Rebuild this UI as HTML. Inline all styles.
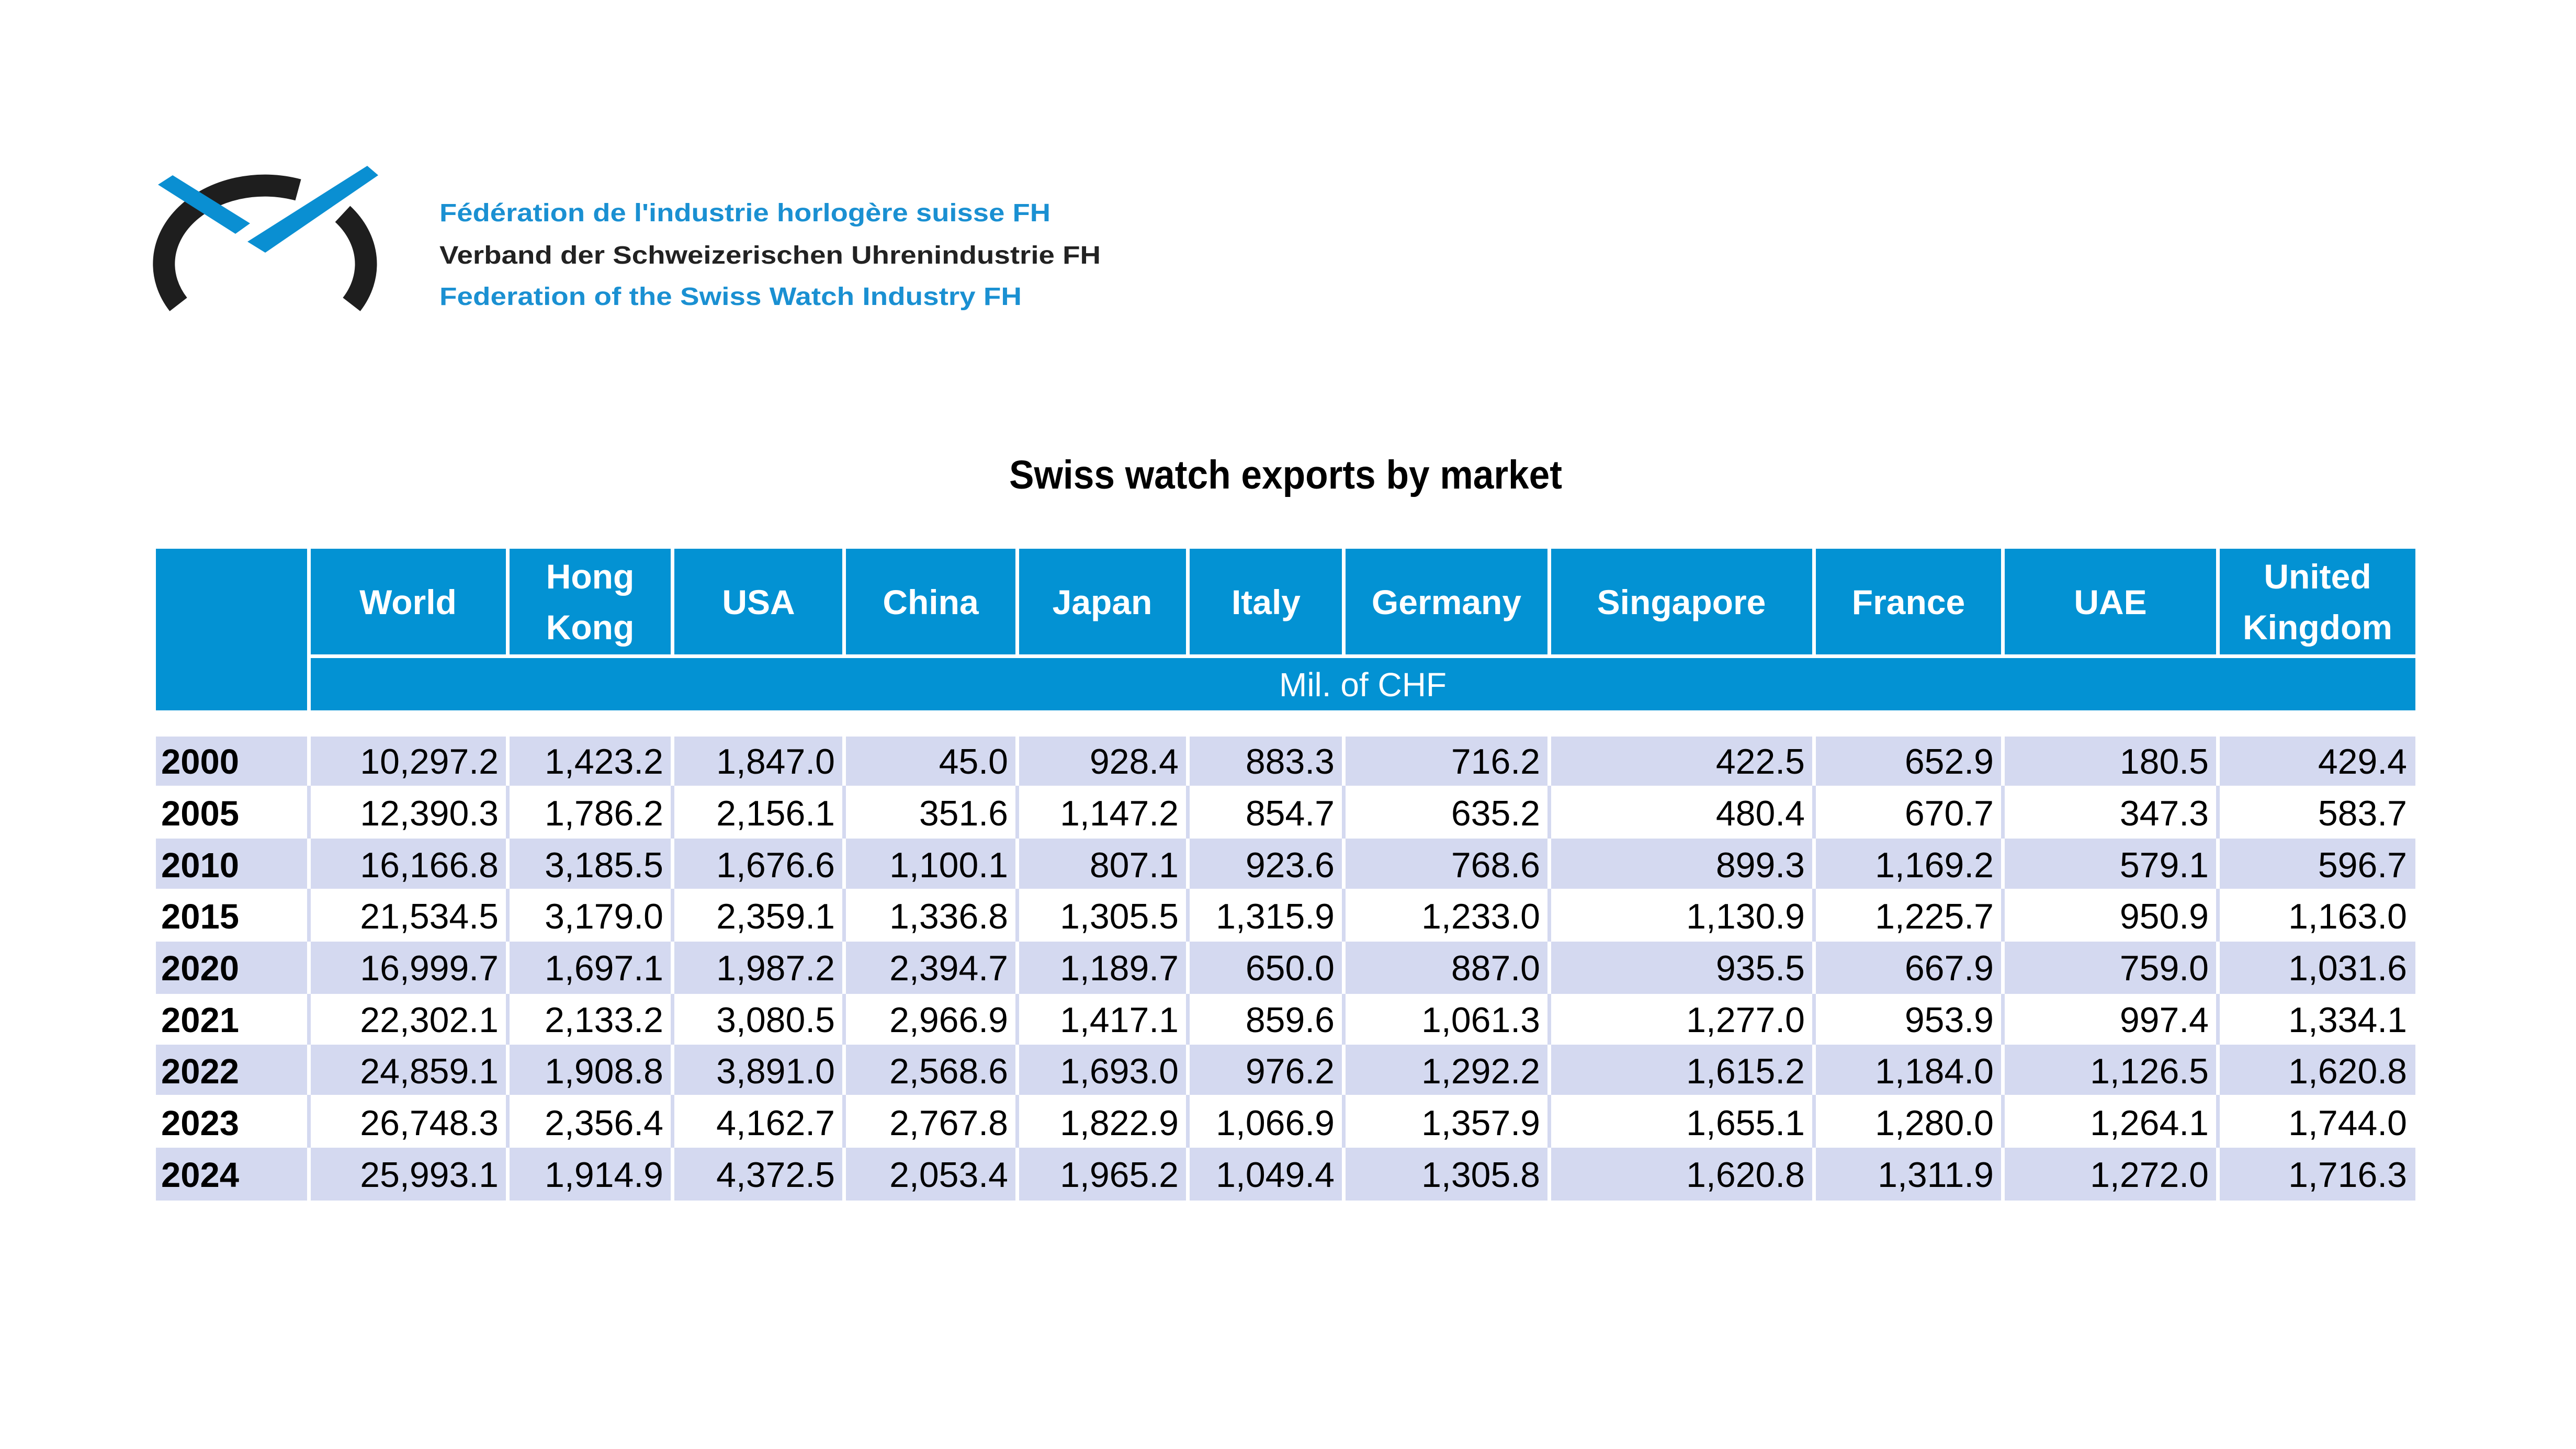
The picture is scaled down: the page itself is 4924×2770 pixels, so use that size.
<!DOCTYPE html>
<html><head><meta charset="utf-8"><style>html,body{margin:0;padding:0;background:#fff}svg{display:block}</style></head>
<body>
<svg xmlns="http://www.w3.org/2000/svg" width="4924" height="2770" viewBox="0 0 4924 2770" font-family="Liberation Sans, sans-serif">
<rect width="4924" height="2770" fill="#fff"/>
<!-- logo -->
<g fill="none" stroke="#1e1e1e" stroke-width="42">
<path d="M 341 582 A 193 150 0 0 1 570 363"/>
<path d="M 655 409 A 193 150 0 0 1 672 582"/>
</g>
<polygon points="302,353 330,335 478,427 450,447" fill="#0a8fd2"/>
<polygon points="473,462 507,483 723,335 702,317" fill="#0a8fd2"/>
<text x="840" y="423" font-size="48" font-weight="bold" fill="#1a90d2" textLength="1168" lengthAdjust="spacingAndGlyphs">Fédération de l'industrie horlogère suisse FH</text>
<text x="840" y="504" font-size="48" font-weight="bold" fill="#222" textLength="1264" lengthAdjust="spacingAndGlyphs">Verband der Schweizerischen Uhrenindustrie FH</text>
<text x="840" y="583" font-size="48" font-weight="bold" fill="#1a90d2" textLength="1113" lengthAdjust="spacingAndGlyphs">Federation of the Swiss Watch Industry FH</text>
<!-- title -->
<text x="1929" y="934" font-size="77" font-weight="bold" fill="#000" textLength="1057" lengthAdjust="spacingAndGlyphs">Swiss watch exports by market</text>
<!-- header -->
<g fill="#0392d3">
<rect x="298" y="1049" width="289" height="309"/>
<rect x="594" y="1049" width="373" height="202"/>
<rect x="974" y="1049" width="308" height="202"/>
<rect x="1289" y="1049" width="321" height="202"/>
<rect x="1617" y="1049" width="324" height="202"/>
<rect x="1948" y="1049" width="319" height="202"/>
<rect x="2274" y="1049" width="291" height="202"/>
<rect x="2572" y="1049" width="386" height="202"/>
<rect x="2965" y="1049" width="499" height="202"/>
<rect x="3471" y="1049" width="354" height="202"/>
<rect x="3832" y="1049" width="404" height="202"/>
<rect x="4243" y="1049" width="374" height="202"/>
<rect x="594" y="1258" width="4023" height="100"/>
</g>
<g fill="#fff" font-size="66" font-weight="bold" text-anchor="middle">
<text x="780" y="1174">World</text>
<text x="1128" y="1125">Hong</text>
<text x="1128" y="1222">Kong</text>
<text x="1450" y="1174">USA</text>
<text x="1779" y="1174">China</text>
<text x="2107" y="1174">Japan</text>
<text x="2420" y="1174">Italy</text>
<text x="2765" y="1174">Germany</text>
<text x="3214" y="1174">Singapore</text>
<text x="3648" y="1174">France</text>
<text x="4034" y="1174">UAE</text>
<text x="4430" y="1125">United</text>
<text x="4430" y="1222">Kingdom</text>
</g>
<text x="2605" y="1331" fill="#fff" font-size="64" text-anchor="middle">Mil. of CHF</text>
<!-- body rows -->
<g fill="#d4d9f0">
<rect x="298" y="1408" width="4319" height="94"/>
<rect x="298" y="1603" width="4319" height="96"/>
<rect x="298" y="1800" width="4319" height="100"/>
<rect x="298" y="1997" width="4319" height="96"/>
<rect x="298" y="2194" width="4319" height="101"/>
<rect x="587" y="1502" width="7" height="793"/>
<rect x="967" y="1502" width="7" height="793"/>
<rect x="1282" y="1502" width="7" height="793"/>
<rect x="1610" y="1502" width="7" height="793"/>
<rect x="1941" y="1502" width="7" height="793"/>
<rect x="2267" y="1502" width="7" height="793"/>
<rect x="2565" y="1502" width="7" height="793"/>
<rect x="2958" y="1502" width="7" height="793"/>
<rect x="3464" y="1502" width="7" height="793"/>
<rect x="3825" y="1502" width="7" height="793"/>
<rect x="4236" y="1502" width="7" height="793"/>
</g>
<g fill="#fff">
<rect x="587" y="1408" width="7" height="94"/><rect x="967" y="1408" width="7" height="94"/><rect x="1282" y="1408" width="7" height="94"/><rect x="1610" y="1408" width="7" height="94"/><rect x="1941" y="1408" width="7" height="94"/><rect x="2267" y="1408" width="7" height="94"/><rect x="2565" y="1408" width="7" height="94"/><rect x="2958" y="1408" width="7" height="94"/><rect x="3464" y="1408" width="7" height="94"/><rect x="3825" y="1408" width="7" height="94"/><rect x="4236" y="1408" width="7" height="94"/>
<rect x="587" y="1603" width="7" height="96"/><rect x="967" y="1603" width="7" height="96"/><rect x="1282" y="1603" width="7" height="96"/><rect x="1610" y="1603" width="7" height="96"/><rect x="1941" y="1603" width="7" height="96"/><rect x="2267" y="1603" width="7" height="96"/><rect x="2565" y="1603" width="7" height="96"/><rect x="2958" y="1603" width="7" height="96"/><rect x="3464" y="1603" width="7" height="96"/><rect x="3825" y="1603" width="7" height="96"/><rect x="4236" y="1603" width="7" height="96"/>
<rect x="587" y="1800" width="7" height="100"/><rect x="967" y="1800" width="7" height="100"/><rect x="1282" y="1800" width="7" height="100"/><rect x="1610" y="1800" width="7" height="100"/><rect x="1941" y="1800" width="7" height="100"/><rect x="2267" y="1800" width="7" height="100"/><rect x="2565" y="1800" width="7" height="100"/><rect x="2958" y="1800" width="7" height="100"/><rect x="3464" y="1800" width="7" height="100"/><rect x="3825" y="1800" width="7" height="100"/><rect x="4236" y="1800" width="7" height="100"/>
<rect x="587" y="1997" width="7" height="96"/><rect x="967" y="1997" width="7" height="96"/><rect x="1282" y="1997" width="7" height="96"/><rect x="1610" y="1997" width="7" height="96"/><rect x="1941" y="1997" width="7" height="96"/><rect x="2267" y="1997" width="7" height="96"/><rect x="2565" y="1997" width="7" height="96"/><rect x="2958" y="1997" width="7" height="96"/><rect x="3464" y="1997" width="7" height="96"/><rect x="3825" y="1997" width="7" height="96"/><rect x="4236" y="1997" width="7" height="96"/>
<rect x="587" y="2194" width="7" height="101"/><rect x="967" y="2194" width="7" height="101"/><rect x="1282" y="2194" width="7" height="101"/><rect x="1610" y="2194" width="7" height="101"/><rect x="1941" y="2194" width="7" height="101"/><rect x="2267" y="2194" width="7" height="101"/><rect x="2565" y="2194" width="7" height="101"/><rect x="2958" y="2194" width="7" height="101"/><rect x="3464" y="2194" width="7" height="101"/><rect x="3825" y="2194" width="7" height="101"/><rect x="4236" y="2194" width="7" height="101"/>
</g>
<g font-size="67" font-weight="bold" fill="#000">
<text x="308" y="1479">2000</text>
<text x="308" y="1578">2005</text>
<text x="308" y="1677">2010</text>
<text x="308" y="1775">2015</text>
<text x="308" y="1874">2020</text>
<text x="308" y="1973">2021</text>
<text x="308" y="2071">2022</text>
<text x="308" y="2170">2023</text>
<text x="308" y="2269">2024</text>
</g>
<g font-size="68" fill="#000" text-anchor="end">
<g transform="translate(0,1479)"><text x="953" y="0">10,297.2</text><text x="1268" y="0">1,423.2</text><text x="1596" y="0">1,847.0</text><text x="1927" y="0">45.0</text><text x="2253" y="0">928.4</text><text x="2551" y="0">883.3</text><text x="2944" y="0">716.2</text><text x="3450" y="0">422.5</text><text x="3811" y="0">652.9</text><text x="4222" y="0">180.5</text><text x="4601" y="0">429.4</text></g>
<g transform="translate(0,1578)"><text x="953" y="0">12,390.3</text><text x="1268" y="0">1,786.2</text><text x="1596" y="0">2,156.1</text><text x="1927" y="0">351.6</text><text x="2253" y="0">1,147.2</text><text x="2551" y="0">854.7</text><text x="2944" y="0">635.2</text><text x="3450" y="0">480.4</text><text x="3811" y="0">670.7</text><text x="4222" y="0">347.3</text><text x="4601" y="0">583.7</text></g>
<g transform="translate(0,1677)"><text x="953" y="0">16,166.8</text><text x="1268" y="0">3,185.5</text><text x="1596" y="0">1,676.6</text><text x="1927" y="0">1,100.1</text><text x="2253" y="0">807.1</text><text x="2551" y="0">923.6</text><text x="2944" y="0">768.6</text><text x="3450" y="0">899.3</text><text x="3811" y="0">1,169.2</text><text x="4222" y="0">579.1</text><text x="4601" y="0">596.7</text></g>
<g transform="translate(0,1775)"><text x="953" y="0">21,534.5</text><text x="1268" y="0">3,179.0</text><text x="1596" y="0">2,359.1</text><text x="1927" y="0">1,336.8</text><text x="2253" y="0">1,305.5</text><text x="2551" y="0">1,315.9</text><text x="2944" y="0">1,233.0</text><text x="3450" y="0">1,130.9</text><text x="3811" y="0">1,225.7</text><text x="4222" y="0">950.9</text><text x="4601" y="0">1,163.0</text></g>
<g transform="translate(0,1874)"><text x="953" y="0">16,999.7</text><text x="1268" y="0">1,697.1</text><text x="1596" y="0">1,987.2</text><text x="1927" y="0">2,394.7</text><text x="2253" y="0">1,189.7</text><text x="2551" y="0">650.0</text><text x="2944" y="0">887.0</text><text x="3450" y="0">935.5</text><text x="3811" y="0">667.9</text><text x="4222" y="0">759.0</text><text x="4601" y="0">1,031.6</text></g>
<g transform="translate(0,1973)"><text x="953" y="0">22,302.1</text><text x="1268" y="0">2,133.2</text><text x="1596" y="0">3,080.5</text><text x="1927" y="0">2,966.9</text><text x="2253" y="0">1,417.1</text><text x="2551" y="0">859.6</text><text x="2944" y="0">1,061.3</text><text x="3450" y="0">1,277.0</text><text x="3811" y="0">953.9</text><text x="4222" y="0">997.4</text><text x="4601" y="0">1,334.1</text></g>
<g transform="translate(0,2071)"><text x="953" y="0">24,859.1</text><text x="1268" y="0">1,908.8</text><text x="1596" y="0">3,891.0</text><text x="1927" y="0">2,568.6</text><text x="2253" y="0">1,693.0</text><text x="2551" y="0">976.2</text><text x="2944" y="0">1,292.2</text><text x="3450" y="0">1,615.2</text><text x="3811" y="0">1,184.0</text><text x="4222" y="0">1,126.5</text><text x="4601" y="0">1,620.8</text></g>
<g transform="translate(0,2170)"><text x="953" y="0">26,748.3</text><text x="1268" y="0">2,356.4</text><text x="1596" y="0">4,162.7</text><text x="1927" y="0">2,767.8</text><text x="2253" y="0">1,822.9</text><text x="2551" y="0">1,066.9</text><text x="2944" y="0">1,357.9</text><text x="3450" y="0">1,655.1</text><text x="3811" y="0">1,280.0</text><text x="4222" y="0">1,264.1</text><text x="4601" y="0">1,744.0</text></g>
<g transform="translate(0,2269)"><text x="953" y="0">25,993.1</text><text x="1268" y="0">1,914.9</text><text x="1596" y="0">4,372.5</text><text x="1927" y="0">2,053.4</text><text x="2253" y="0">1,965.2</text><text x="2551" y="0">1,049.4</text><text x="2944" y="0">1,305.8</text><text x="3450" y="0">1,620.8</text><text x="3811" y="0">1,311.9</text><text x="4222" y="0">1,272.0</text><text x="4601" y="0">1,716.3</text></g>
</g>
</svg>
</body></html>
